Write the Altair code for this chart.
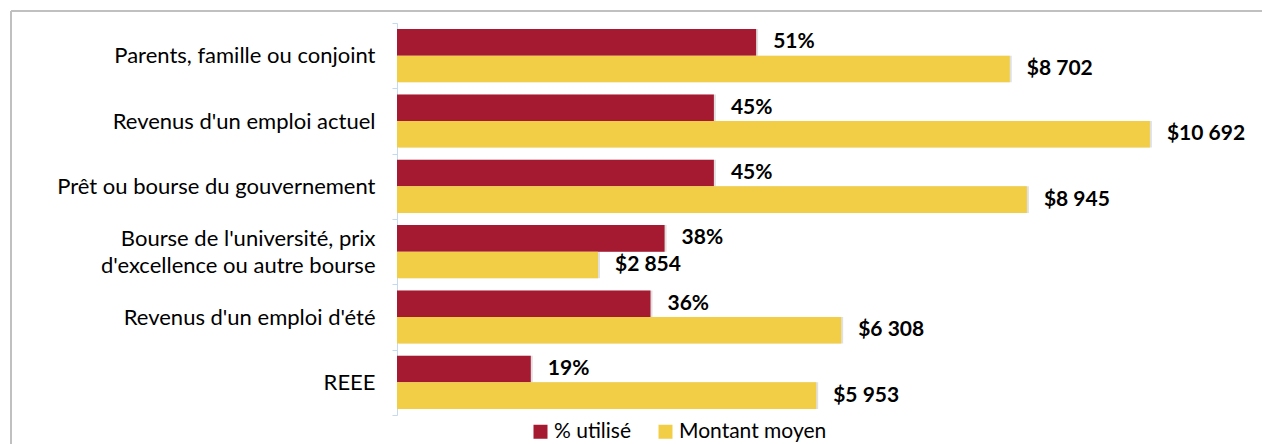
import altair as alt
import pandas as pd

# ---- data ----
categories = [
    "Parents, famille ou conjoint",
    "Revenus d'un emploi actuel",
    "Prêt ou bourse du gouvernement",
    "Bourse de l'université, prix\nd'excellence ou autre bourse",
    "Revenus d'un emploi d'été",
    "REEE",
]
series = ["% utilisé", "Montant moyen"]
pct_utilise = [51, 45, 45, 38, 36, 19]
montant_moyen = [8702, 10692, 8945, 2854, 6308, 5953]
colors = ["#A51931", "#F2CE46"]

rows = []
for c, p, m in zip(categories, pct_utilise, montant_moyen):
    rows.append({"cat": c, "serie": series[0], "val": p, "lab": f"{p}%"})
    rows.append({"cat": c, "serie": series[1], "val": m,
                 "lab": "$" + f"{m:,}".replace(",", " ")})
df = pd.DataFrame(rows)

FONT = "Lato"

base = alt.Chart(df).encode(
    y=alt.Y("cat:N", sort=categories, title=None,
            scale=alt.Scale(paddingInner=0, paddingOuter=0),
            axis=alt.Axis(labelExpr="split(datum.label, '\\n')",
                          labelFont=FONT, labelFontSize=22, labelColor="#000000",
                          labelLineHeight=27, labelPadding=17, labelLimit=0,
                          labelOffset={"condition": {"test": "indexof(datum.label, '\\n') >= 0",
                                                     "value": -13},
                                       "value": 0},
                          domainColor="#C5D9F1", tickColor="#C5D9F1",
                          tickSize=5, tickBand="extent", grid=False)),
    yOffset=alt.YOffset("serie:N", sort=series,
                        scale=alt.Scale(domain=series, paddingInner=0, paddingOuter=0.23)),
)

color_enc = alt.Color("serie:N", scale=alt.Scale(domain=series, range=colors),
                      legend=alt.Legend(title=None, orient="none", legendX=133, legendY=398,
                                        direction="horizontal", symbolType="square",
                                        symbolSize=196, symbolStrokeWidth=0,
                                        labelFont=FONT, labelFontSize=21,
                                        labelColor="#000000", labelOffset=3,
                                        columnPadding=23))

red = base.transform_filter(alt.datum.serie == series[0])
yel = base.transform_filter(alt.datum.serie == series[1])

x_red = alt.X("val:Q", scale=alt.Scale(domain=[0, 120]), axis=None, title=None)
x_yel = alt.X("val:Q", scale=alt.Scale(domain=[0, 12000]), axis=None, title=None)

shadow = dict(color="#000000", opacity=0.12)
red_sh = red.mark_bar(**shadow, xOffset=2, yOffset=3).encode(x=x_red)
yel_sh = yel.mark_bar(**shadow, xOffset=2, yOffset=3).encode(x=x_yel)
red_bar = red.mark_bar().encode(x=x_red, color=color_enc)
yel_bar = yel.mark_bar().encode(x=x_yel, color=color_enc)
txt = dict(align="left", baseline="middle", dx=17, font=FONT, fontSize=21,
           fontWeight="bold", color="#000000")
red_txt = red.mark_text(**txt).encode(x=x_red, text="lab:N")
yel_txt = yel.mark_text(**txt).encode(x=x_yel, text="lab:N")

# decorative outer frame (top and left edges)
frame_src = alt.Chart(alt.Data(values=[{"k": 1}]))
frame_top = frame_src.mark_rule(color="#C0C0C0", strokeWidth=2).encode(
    x=alt.value(-386), x2=alt.value(880), y=alt.value(-12))
frame_left = frame_src.mark_rule(color="#C0C0C0", strokeWidth=2).encode(
    x=alt.value(-386), y=alt.value(-12), y2=alt.value(440))

chart = alt.layer(red_sh, yel_sh, red_bar, yel_bar, red_txt, yel_txt,
                  frame_top, frame_left).resolve_scale(
    x="independent"
).properties(
    width=845, height=392,
    autosize=alt.AutoSizeParams(type="none"),
    padding={"left": 397, "top": 23, "right": 20, "bottom": 29},
    background="white",
).configure_view(stroke=None)

chart.save("out.html", embed_options={"renderer": "svg", "actions": False})
